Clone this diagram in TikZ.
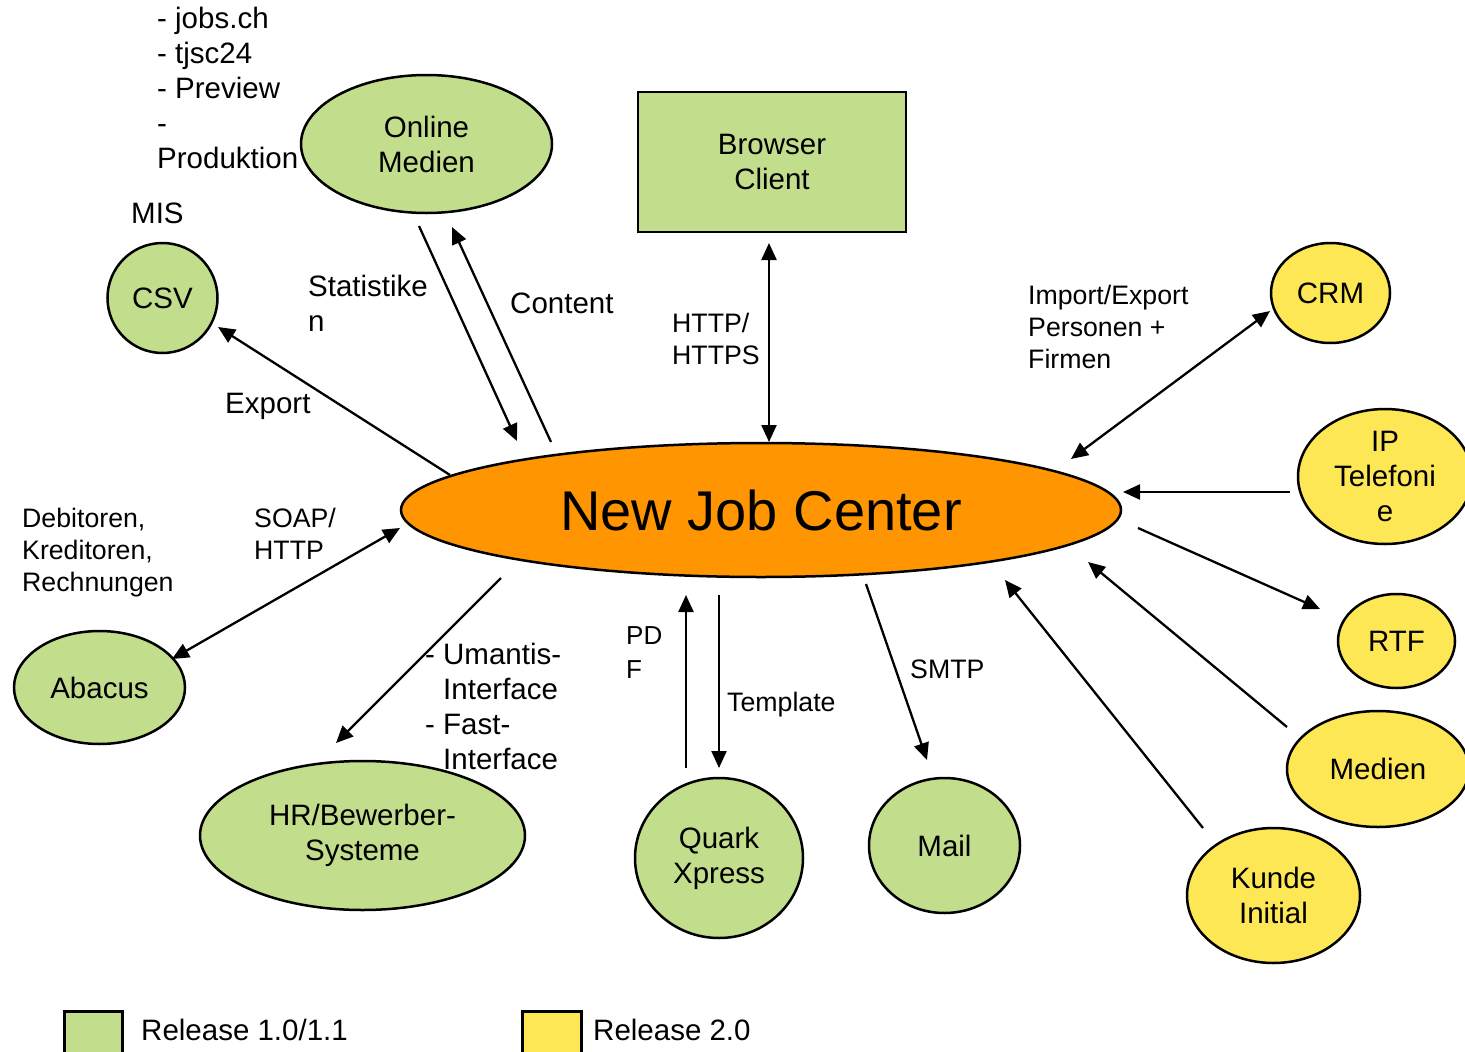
\documentclass[tikz,border=0pt]{standalone}
\usepackage{fontspec}
\setmainfont{Liberation Sans}
\usepackage{xcolor}
\usetikzlibrary{arrows.meta}
\usetikzlibrary{shapes.geometric}
\definecolor{relgreen}{RGB}{194,221,140}
\definecolor{relyellow}{RGB}{253,231,84}
\definecolor{jcorange}{RGB}{255,149,0}

\begin{document}
\begin{tikzpicture}[x=1pt,y=-1pt,>={Triangle[length=17pt,width=15pt]}]
    \tikzstyle{every node}=[font=\fontsize{29.5}{35}\selectfont]
    \tikzstyle{sys}=[ellipse,draw,line width=2.5pt,inner sep=0pt,outer sep=0pt,align=center]
    \tikzstyle{relA}=[sys,fill=relgreen]
    \tikzstyle{relB}=[sys,fill=relyellow]
    \tikzstyle{flow}=[line width=2.3pt]
    \tikzstyle{lbl}=[inner sep=0pt,align=left]
    \tikzstyle{lblsmall}=[lbl,font=\fontsize{26.7}{32}\selectfont]
    \useasboundingbox (0,0) rectangle (1465,1052);
    % systems
    \node[sys,fill=jcorange,minimum width=720pt,minimum height=134pt,font=\fontsize{56}{60}\selectfont] (JC) at (761,510) {New Job Center};
    \node[relA,minimum width=251pt,minimum height=138pt] (Online) at (426.5,144) {Online\\Medien};
    \node[draw,rectangle,fill=relgreen,line width=2.5pt,inner sep=0pt,outer sep=0pt,minimum width=268pt,minimum height=140pt,align=center] (Browser) at (772,162) {Browser\\Client};
    \node[relA,minimum size=110pt] (CSV) at (162.5,298) {CSV};
    \node[relA,minimum width=171pt,minimum height=113pt] (Abacus) at (99.5,687.5) {Abacus};
    \node[relA,minimum width=325pt,minimum height=149pt] (HR) at (362.5,835.5) {HR/Bewerber-\\Systeme};
    \node[relA,minimum width=168pt,minimum height=160pt] (Quark) at (719,858) {Quark\\Xpress};
    \node[relA,minimum width=151pt,minimum height=135pt] (Mail) at (944.5,845.5) {Mail};
    \node[relB,minimum width=119pt,minimum height=100pt] (CRM) at (1330.5,293) {CRM};
    \node[relB,minimum width=174pt,minimum height=135pt] (IP) at (1385,476.5) {IP\\Telefoni\\e};
    \node[relB,minimum width=117pt,minimum height=94pt] (RTF) at (1396.5,641) {RTF};
    \node[relB,minimum width=182pt,minimum height=116pt] (Medien) at (1378,769) {Medien};
    \node[relB,minimum width=173pt,minimum height=135pt] (Kunde) at (1273.5,895.5) {Kunde\\Initial};
    % labels
    \node[lbl,anchor=west] (lOnline) at (157,87.5) {- jobs.ch\\- tjsc24\\- Preview\\-\\Produktion};
    \node[lbl,anchor=base west] (lMIS) at (131,223) {MIS};
    \node[lbl,anchor=west] (lStat) at (308,303.5) {Statistike\\n};
    \node[lbl,anchor=base west] (lContent) at (510,313) {Content};
    \node[lbl,anchor=base west] (lExport) at (225,413) {Export};
    \node[lblsmall,anchor=west] (lHTTP) at (672,339) {HTTP/\\HTTPS};
    \node[lblsmall,anchor=west] (lCRM) at (1028,327) {Import/Export\\Personen +\\Firmen};
    \node[lblsmall,anchor=west] (lAbacus) at (22,552.5) {Debitoren,\\Kreditoren,\\Rechnungen};
    \node[lblsmall,anchor=west] (lSOAP) at (254,534) {SOAP/\\HTTP};
    \node[lbl,anchor=west] (lHR) at (425,706) {- Umantis-\\\hphantom{- }Interface\\- Fast-\\\hphantom{- }Interface};
    \node[lblsmall,font=\fontsize{26}{34}\selectfont,anchor=west] (lPDF) at (626,652.5) {PD\\F};
    \node[lblsmall,anchor=base west] (lTemplate) at (727,711) {Template};
    \node[lblsmall,anchor=base west] (lSMTP) at (910,678) {SMTP};
    % connectors
    \draw[flow,->] ([shift={(-311,-35)}]JC.center) to ([shift={(55.5,29)}]CSV.center);
    \draw[flow,->] ([shift={(-7.5,82)}]Online.center) to ([shift={(-244,-69)}]JC.center);
    \draw[flow,->] ([shift={(-210,-68)}]JC.center) to ([shift={(25.5,83)}]Online.center);
    \draw[flow,<->] ([shift={(-3,81)}]Browser.center) to ([shift={(8,-68)}]JC.center);
    \draw[flow,<->] ([shift={(310,-51)}]JC.center) to ([shift={(-60.5,18)}]CRM.center);
    \draw[flow,->] ([shift={(-95,15.5)}]IP.center) to ([shift={(362,-18)}]JC.center);
    \draw[flow,->] ([shift={(377,18)}]JC.center) to ([shift={(-76.5,-32)}]RTF.center);
    \draw[flow,->] ([shift={(-91,-42)}]Medien.center) to ([shift={(327,52)}]JC.center);
    \draw[flow,->] ([shift={(-70.5,-67.5)}]Kunde.center) to ([shift={(244,70)}]JC.center);
    \draw[flow,->] ([shift={(105,74)}]JC.center) to ([shift={(-17.5,-85.5)}]Mail.center);
    \draw[flow,->] ([shift={(-42,85)}]JC.center) to ([shift={(0,-90)}]Quark.center);
    \draw[flow,->] ([shift={(-33,-90)}]Quark.center) to ([shift={(-75,85)}]JC.center);
    \draw[flow,->] ([shift={(-260,68)}]JC.center) to ([shift={(-26.5,-92.5)}]HR.center);
    \draw[flow,<->] ([shift={(-361,18)}]JC.center) to ([shift={(72.5,-28.5)}]Abacus.center);
    % legend
    \node[draw,fill=relgreen,line width=2.5pt,inner sep=0pt,minimum width=58pt,minimum height=60pt,anchor=north west] (keyA) at (63,1010) {};
    \node[lbl,anchor=base west] (lkeyA) at (141,1040) {Release 1.0/1.1};
    \node[draw,fill=relyellow,line width=2.5pt,inner sep=0pt,minimum width=59pt,minimum height=60pt,anchor=north west] (keyB) at (521,1010) {};
    \node[lbl,anchor=base west] (lkeyB) at (593,1040) {Release 2.0};
\end{tikzpicture}
\end{document}
